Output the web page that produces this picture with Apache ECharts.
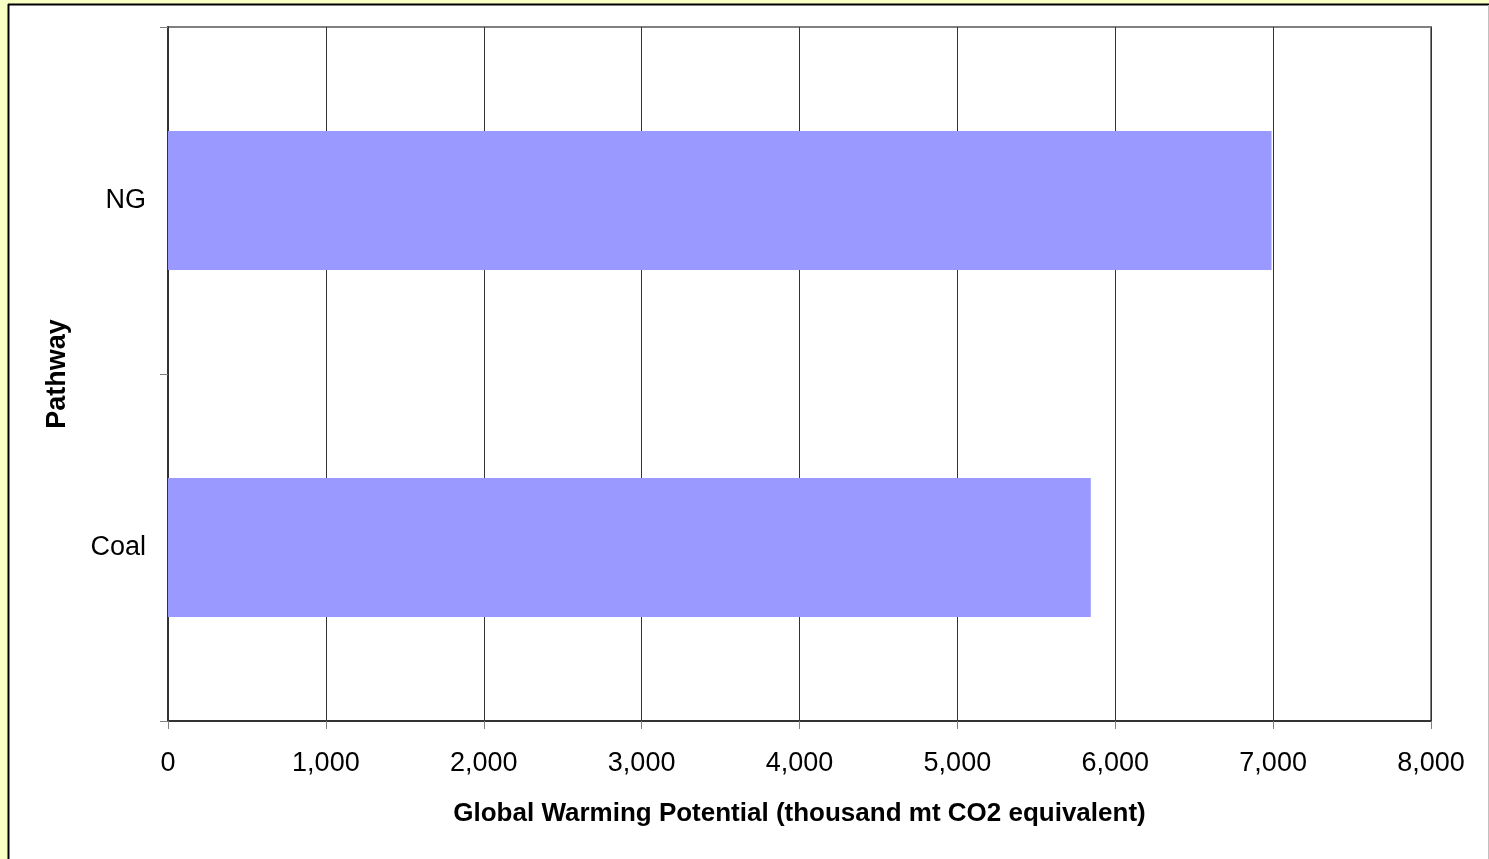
<!DOCTYPE html>
<html>
<head>
<meta charset="utf-8">
<script src="https://cdn.jsdelivr.net/npm/echarts@6/dist/echarts.min.js"></script>
<style>
  html, body { margin: 0; padding: 0; background: #F8FFC4; }
  #chart { width: 1489px; height: 859px; }
</style>
</head>
<body>
<div id="chart"></div>
<script>
// Pathways (bottom to top) and their global warming potential
const pathways = ['Coal', 'NG'];
const gwpValues = [5845, 6990];
const xTicks = [0, 1000, 2000, 3000, 4000, 5000, 6000, 7000, 8000];

const xTitle = 'Global Warming Potential (thousand mt CO2 equivalent)';
const yTitle = 'Pathway';

const chart = echarts.init(document.getElementById('chart'), null, { renderer: 'canvas' });
const font = '"Liberation Sans", Arial, sans-serif';

chart.setOption({
  backgroundColor: '#F8FFC4',
  animation: false,
  graphic: [
    { type: 'rect', shape: { x: 8, y: 4, width: 1480, height: 900 },
      style: { fill: '#ffffff' }, z: -10 },
    { type: 'line', shape: { x1: 8.5, y1: 4, x2: 8.5, y2: 859 },
      style: { stroke: '#000000', lineWidth: 2 }, z: -9 },
    { type: 'line', shape: { x1: 8, y1: 4.5, x2: 1489, y2: 4.5 },
      style: { stroke: '#000000', lineWidth: 2 }, z: -9 },
    { type: 'line', shape: { x1: 1488.5, y1: 5, x2: 1488.5, y2: 859 },
      style: { stroke: '#c0c0c0', lineWidth: 1 }, z: -9 }
  ],
  grid: {
    left: 168, right: 58, top: 27, bottom: 138,
    show: true, borderColor: '#808080', borderWidth: 2, backgroundColor: 'transparent'
  },
  xAxis: {
    type: 'value',
    min: xTicks[0], max: xTicks[xTicks.length - 1], interval: 1000,
    name: xTitle, nameLocation: 'middle', nameGap: 80,
    nameTextStyle: { fontFamily: font, fontSize: 26, fontWeight: 'bold', color: '#000' },
    axisLine: { show: true, lineStyle: { color: '#333333', width: 2 } },
    axisTick: { show: true, length: 8, lineStyle: { color: '#808080', width: 1 } },
    axisLabel: {
      margin: 29, fontFamily: font, fontSize: 27, color: '#000',
      formatter: v => v.toLocaleString('en-US')
    },
    splitLine: { show: true, lineStyle: { color: '#333333', width: 1 } }
  },
  yAxis: {
    type: 'category',
    data: pathways,
    name: yTitle, nameLocation: 'middle', nameGap: 97, nameRotate: 90,
    nameTextStyle: { fontFamily: font, fontSize: 27, fontWeight: 'bold', color: '#000' },
    axisLine: { show: true, lineStyle: { color: '#333333', width: 2 } },
    axisTick: { show: true, length: 8, lineStyle: { color: '#808080', width: 1 } },
    axisLabel: { margin: 22, fontFamily: font, fontSize: 27, color: '#000' },
    splitLine: { show: false }
  },
  series: [{
    type: 'bar',
    data: gwpValues,
    barCategoryGap: '60%',
    itemStyle: { color: '#9999FF' }
  }]
});
</script>
</body>
</html>
